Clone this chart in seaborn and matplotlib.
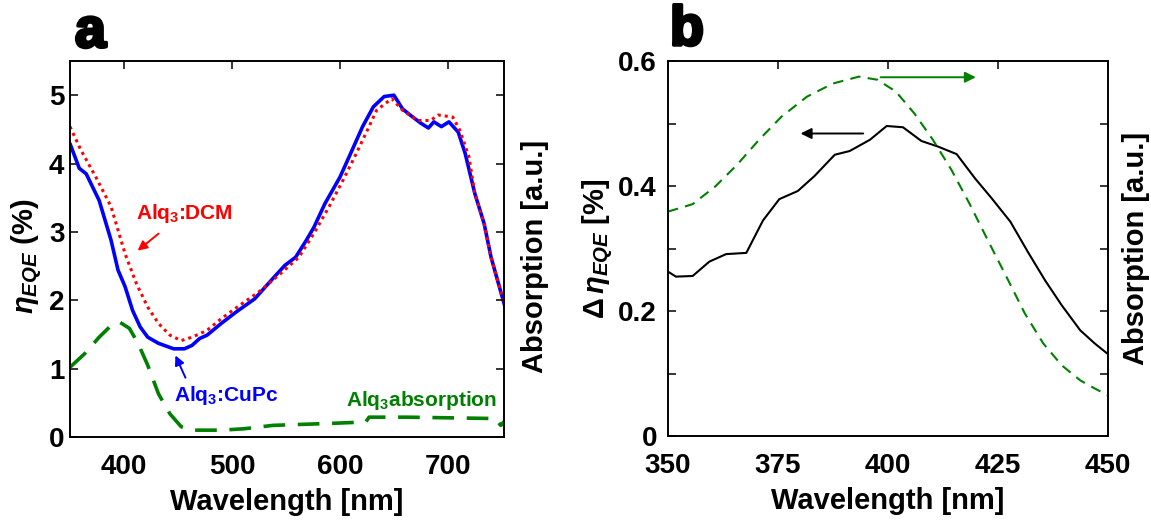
import numpy as np
import pandas as pd
import matplotlib
matplotlib.use("Agg")
import matplotlib.pyplot as plt
import matplotlib.patheffects as pe
from matplotlib.ticker import MultipleLocator
import seaborn as sns

# ---------------- data: panel a ----------------
cupc_wl = [350, 358.6, 365, 377, 388, 394.5, 401, 408, 415, 422, 432, 446, 456, 463, 470, 477,
           490, 504, 521, 538, 549, 559, 569, 576, 586, 600, 610, 621, 631, 641, 650, 658,
           665, 675, 682, 687, 694, 701, 709.6, 716, 725, 733.6, 740, 753]
cupc_eqe = [4.29, 3.93, 3.85, 3.46, 2.88, 2.44, 2.20, 1.85, 1.61, 1.46, 1.37, 1.29, 1.29, 1.34,
            1.44, 1.49, 1.66, 1.83, 2.02, 2.32, 2.51, 2.63, 2.88, 3.07, 3.41, 3.80, 4.15, 4.54,
            4.83, 4.98, 5.00, 4.80, 4.71, 4.59, 4.52, 4.61, 4.54, 4.61, 4.46, 4.15, 3.56, 3.12,
            2.63, 1.90]

dcm_wl = [350, 360, 374, 388, 401, 411.6, 422, 432, 442.5, 453, 463, 477, 490, 507.5, 524.7,
          545, 562, 576, 590, 603, 613.7, 624, 634, 648, 658, 672, 684, 691, 704.5, 711,
          719.5, 725, 733.6, 740, 753]
dcm_eqe = [4.54, 4.20, 3.80, 3.37, 2.68, 2.24, 1.90, 1.66, 1.49, 1.41, 1.46, 1.56, 1.73, 1.93,
           2.12, 2.39, 2.63, 2.98, 3.37, 3.76, 4.10, 4.44, 4.78, 4.95, 4.78, 4.63, 4.63, 4.71,
           4.68, 4.49, 4.10, 3.56, 3.12, 2.63, 1.90]

abs_wl = [350, 363.7, 377, 388, 396, 405, 413, 422, 432, 442.5, 453, 463, 490, 511, 538, 593,
          624, 627, 662, 744, 749, 753]
abs_val = [1.02, 1.22, 1.46, 1.63, 1.68, 1.59, 1.37, 1.05, 0.63, 0.34, 0.15, 0.10, 0.10, 0.12,
           0.17, 0.20, 0.22, 0.29, 0.29, 0.27, 0.17, 0.24]

a_xticks = [400, 500, 600, 700]
a_yticks = [0, 1, 2, 3, 4, 5]

# ---------------- data: panel b ----------------
d_wl = [350, 351.8, 355.6, 359.4, 363.2, 367.8, 371.6, 375.3, 379.5, 383.3, 387.9, 391.3,
        395.9, 399.7, 403.4, 407.6, 411.4, 415.6, 419.8, 423.6, 427.8, 432, 435.7, 439.5,
        443.7, 447, 450]
d_eqe = [0.263, 0.255, 0.256, 0.279, 0.291, 0.293, 0.345, 0.379, 0.392, 0.416, 0.450, 0.456,
         0.474, 0.496, 0.494, 0.472, 0.463, 0.451, 0.412, 0.380, 0.343, 0.292, 0.249, 0.209,
         0.169, 0.148, 0.131]

b_abs_wl = [350, 355.6, 360.7, 365.7, 370.7, 375.8, 381.6, 387.5, 393.4, 397.6, 401.8, 406,
            410.2, 414.4, 418.5, 422.7, 426.9, 431.1, 435.3, 439.5, 443.7, 447, 450]
b_abs_val = [0.359, 0.371, 0.399, 0.434, 0.474, 0.511, 0.543, 0.564, 0.575, 0.570, 0.551,
             0.516, 0.474, 0.426, 0.372, 0.313, 0.255, 0.196, 0.148, 0.113, 0.089, 0.076, 0.065]

b_xticks = [350, 375, 400, 425, 450]
b_yticks = [0, 0.2, 0.4, 0.6]
b_ytick_labels = ['0', '0.2', '0.4', '0.6']
b_right_ticks = [0.1, 0.2, 0.3, 0.4, 0.5]

# ---------------- style ----------------
sns.set_theme(style="white")
plt.rcParams['font.family'] = ['Liberation Sans', 'DejaVu Sans']
plt.rcParams['font.weight'] = 'bold'
plt.rcParams['text.color'] = 'black'
plt.rcParams['axes.labelcolor'] = 'black'
plt.rcParams['xtick.color'] = 'black'
plt.rcParams['ytick.color'] = 'black'
plt.rcParams['mathtext.fontset'] = 'custom'
plt.rcParams['mathtext.rm'] = 'Liberation Sans:bold'
plt.rcParams['mathtext.it'] = 'Liberation Sans:italic:bold'
plt.rcParams['mathtext.bf'] = 'Liberation Sans:bold'
plt.rcParams['axes.edgecolor'] = 'black'
plt.rcParams['axes.linewidth'] = 1.2

BLUE = '#0000FF'
RED = '#FF0000'
GREEN = '#008000'
TICK_FS = 20
LAB_FS = 21

W, H = 1151, 523
fig = plt.figure(figsize=(W / 100, H / 100), dpi=100)
# axes boxes from pixel edges
axa = fig.add_axes([70 / W, 1 - 437 / H, (504 - 70) / W, (437 - 61) / H])
axb = fig.add_axes([668 / W, 1 - 436 / H, (1108 - 668) / W, (436 - 61) / H])


def style_axis(ax, xticks, yticks):
    ax.set_xticks(xticks)
    ax.set_yticks(yticks)
    ax.tick_params(which='both', direction='in', length=6, width=1.1,
                   top=True, right=False, colors='black')
    ax.tick_params(axis='x', labelsize=TICK_FS, pad=12)
    ax.tick_params(axis='y', labelsize=TICK_FS, pad=4)
    for s in ax.spines.values():
        s.set_visible(True)
        s.set_color('black')
        s.set_linewidth(1.2)


# ---------------- panel a ----------------
sns.lineplot(x=cupc_wl, y=cupc_eqe, ax=axa, color=BLUE, linewidth=2.6, sort=False)
sns.lineplot(x=dcm_wl, y=dcm_eqe, ax=axa, color=RED, linewidth=2.2, sort=False,
             linestyle=(0, (1, 1.3)))
axa.set_xlim(350, 752)
axa.set_ylim(0, 5.5)
style_axis(axa, a_xticks, a_yticks)
axa.set_yticklabels([str(t) for t in a_yticks], fontweight='bold')
axa.set_xticklabels([str(t) for t in a_xticks], fontweight='bold')
axa.set_xlabel('Wavelength [nm]', fontsize=LAB_FS, fontweight='bold')
axa.set_ylabel(r'$\eta_{EQE}$ (%)', fontsize=LAB_FS, fontweight='bold')
axa.xaxis.set_label_coords(0.5, -0.135)
axa.yaxis.set_label_coords(-0.06, 0.48)

axa2 = axa.twinx()
sns.lineplot(x=abs_wl, y=abs_val, ax=axa2, color=GREEN, linewidth=2.6, sort=False,
             linestyle=(0, (6, 3.5)))
axa2.set_ylim(0, 5.5)
axa2.set_yticks(a_yticks)
axa2.tick_params(direction='in', length=6, width=1.1, labelright=False, right=True)
axa2.set_ylabel('Absorption [a.u.]', fontsize=LAB_FS, fontweight='bold')
axa2.yaxis.set_label_coords(1.039, 0.48)
for s in axa2.spines.values():
    s.set_visible(True)
    s.set_color('black')

axa.annotate('', xy=(410.6, 2.70), xytext=(434, 3.0),
             arrowprops=dict(arrowstyle='-|>', color=RED, lw=1.4, mutation_scale=14))
axa.text(456, 3.27, r'Alq$_3$:DCM', color=RED, fontsize=15, fontweight='bold',
         ha='center', va='center')
axa.annotate('', xy=(446.6, 1.23), xytext=(458, 0.83),
             arrowprops=dict(arrowstyle='-|>', color=BLUE, lw=1.4, mutation_scale=14))
axa.text(495, 0.61, r'Alq$_3$:CuPc', color=BLUE, fontsize=15, fontweight='bold',
         ha='center', va='center')
axa.text(676, 0.54, r'Alq$_3$absorption', color=GREEN, fontsize=15, fontweight='bold',
         ha='center', va='center')

fig.text(75 / W, 1 - 47 / H, 'a', fontsize=40, fontweight='bold',
         ha='left', va='baseline',
         path_effects=[pe.withStroke(linewidth=2.5, foreground='black')])

# ---------------- panel b ----------------
sns.lineplot(x=d_wl, y=d_eqe, ax=axb, color='black', linewidth=1.5, sort=False)
axb.set_xlim(350, 450)
axb.set_ylim(0, 0.6)
style_axis(axb, b_xticks, b_yticks)
axb.yaxis.set_minor_locator(MultipleLocator(0.1))
axb.tick_params(axis='y', which='minor', length=6, width=1.1, direction='in', right=False)
axb.set_yticklabels(b_ytick_labels, fontweight='bold')
axb.set_xticklabels([str(t) for t in b_xticks], fontweight='bold')
axb.tick_params(axis='y', pad=8)
axb.set_xlabel('Wavelength [nm]', fontsize=LAB_FS, fontweight='bold')
axb.set_ylabel(r'$\Delta\,\eta_{EQE}$ [%]', fontsize=LAB_FS, fontweight='bold')
axb.xaxis.set_label_coords(0.5, -0.135)
axb.yaxis.set_label_coords(-0.12, 0.5)

axb2 = axb.twinx()
sns.lineplot(x=b_abs_wl, y=b_abs_val, ax=axb2, color=GREEN, linewidth=1.5, sort=False,
             linestyle=(0, (5, 3.5)))
axb2.set_ylim(0, 0.6)
axb2.set_yticks(b_right_ticks)
axb2.tick_params(direction='in', length=6, width=1.1, labelright=False, right=True)
axb2.set_ylabel('Absorption [a.u.]', fontsize=LAB_FS, fontweight='bold')
axb2.yaxis.set_label_coords(1.032, 0.5)
for s in axb2.spines.values():
    s.set_visible(True)
    s.set_color('black')

axb.annotate('', xy=(420.6, 0.574), xytext=(397.7, 0.574),
             arrowprops=dict(arrowstyle='-|>', color=GREEN, lw=1.4, mutation_scale=16))
axb.annotate('', xy=(379.5, 0.484), xytext=(395.0, 0.484),
             arrowprops=dict(arrowstyle='-|>', color='black', lw=1.4, mutation_scale=16))

fig.text(670 / W, 1 - 45 / H, 'b', fontsize=40, fontweight='bold',
         ha='left', va='baseline',
         path_effects=[pe.withStroke(linewidth=2.5, foreground='black')])

fig.savefig('out.png', dpi=100)
